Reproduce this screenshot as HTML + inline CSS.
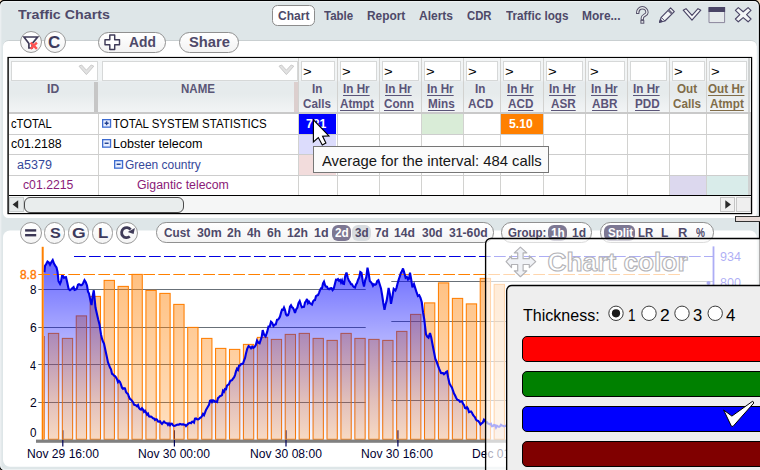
<!DOCTYPE html>
<html><head><meta charset="utf-8"><title>Traffic Charts</title>
<style>
*{box-sizing:border-box;margin:0;padding:0}
html,body{width:760px;height:470px;overflow:hidden;background:#f3dcc0;font-family:"Liberation Sans",sans-serif}
#r{position:absolute;left:0;top:0;width:760px;height:470px;overflow:hidden}
#r div,#r span,#r svg{position:absolute}
.x{white-space:nowrap;line-height:1;transform-origin:0 50%}
.win{left:-1.5px;top:0;width:761.5px;height:473px;background:#dfe5e7;border:1.5px solid #000;border-radius:7px}
.pill{border:1px solid #909090;background:linear-gradient(#ffffff,#f3f3f3)}
.circ{width:22px;height:22px;border:1px solid #9a9a9a;border-radius:11px;background:linear-gradient(#ffffff,#f4f4f4)}
.vl{top:58px;width:1px;height:137px;background:#d2d2d0}
.hl{left:9px;width:742px;height:1px;background:#cdcdcd}
.fb{top:60.5px;height:20px;background:#fff;border:1px solid #d6d8d8}
.sel{background:#7d7893;border-radius:6px;height:15.5px;top:225px}
</style></head><body><div id="r">
<svg style="left:0;top:0" width="760" height="470" viewBox="0 0 760 470">
 <rect x="-0.6" y="0.3" width="760" height="470.7" rx="5.5" fill="#dee6e8" stroke="#000" stroke-width="1.2"/>
 <rect x="0.7" y="1.6" width="757.4" height="468" rx="4.5" fill="none" stroke="#f2f5f6" stroke-opacity="0.7" stroke-width="1.2"/>
 <path d="M3.5 46 A5.5 5.5 0 0 1 8.5 40.5 H751.3 A5.5 5.5 0 0 1 756.3 46" fill="none" stroke="#c9cfd1" stroke-width="1"/>
 <rect x="3" y="41" width="753.8" height="177" rx="5.5" fill="#fff"/>
 <rect x="3" y="230.5" width="753.8" height="236.2" rx="7" fill="#fff"/>
 <rect x="8.1" y="57.6" width="743.4" height="155.9" fill="#fff" stroke="#000" stroke-width="1.4"/>
</svg>

<span class="x " style="left:17.50px;top:7.00px;font-size:13.6px;font-weight:bold;color:#4e4969;transform:scaleX(1.0483);line-height:15px;">Traffic Charts</span>
<div class="pill" style="left:272px;top:5px;width:42.5px;height:20.5px;border-radius:5.5px;background:#fff;border-color:#8c8c8c"></div>
<span class="x " style="left:277.54px;top:8.00px;font-size:13px;font-weight:bold;color:#4e4969;transform:scaleX(0.9248);line-height:15px;">Chart</span>
<span class="x " style="left:323.75px;top:8.00px;font-size:13px;font-weight:bold;color:#4e4969;transform:scaleX(0.8846);line-height:15px;">Table</span>
<span class="x " style="left:366.81px;top:8.00px;font-size:13px;font-weight:bold;color:#4e4969;transform:scaleX(0.9146);line-height:15px;">Report</span>
<span class="x " style="left:419.02px;top:8.00px;font-size:13px;font-weight:bold;color:#4e4969;transform:scaleX(0.9236);line-height:15px;">Alerts</span>
<span class="x " style="left:466.56px;top:8.00px;font-size:13px;font-weight:bold;color:#4e4969;transform:scaleX(0.8716);line-height:15px;">CDR</span>
<span class="x " style="left:505.50px;top:8.00px;font-size:13px;font-weight:bold;color:#4e4969;transform:scaleX(0.9018);line-height:15px;">Traffic logs</span>
<span class="x " style="left:581.81px;top:8.00px;font-size:13px;font-weight:bold;color:#4e4969;transform:scaleX(0.9193);line-height:15px;">More...</span>
<svg style="left:632px;top:2px" width="126" height="26" viewBox="632 2 126 26">
 <path d="M637.7 12.4 A4.65 4.65 0 0 1 647 12.4 C647 15.4 642.3 15 642.3 18 V18.9" fill="none" stroke="#55516a" stroke-width="3.3" stroke-linecap="square"/>
 <path d="M637.7 12.9 V12.4 A4.65 4.65 0 0 1 647 12.4 C647 15.4 642.3 15 642.3 18 V19.3" fill="none" stroke="#eef1f2" stroke-width="1.35" stroke-linecap="butt"/>
 <rect x="640.9" y="20.6" width="2.9" height="2.6" fill="#eef1f2" stroke="#55516a" stroke-width="1"/>
 <g fill="none" stroke="#4a4566" stroke-width="1.15" stroke-linejoin="round">
  <path d="M659.6 22.3 L661.2 17.3 L670.6 7.9 L674.3 11.6 L664.9 21 Z" fill="#f2f4f5"/>
  <path d="M661.2 17.3 L664.9 21" stroke-width="0.9"/>
  <path d="M667.6 10.9 L671.3 14.6 L672.9 13 L669.2 9.3 Z" fill="#6f6b84" stroke="none"/>
  <path d="M659.6 22.3 L660.4 19.7 L662.2 21.5 Z" fill="#4a4566"/>
  <path d="M683.2 10.2 L686 8.7 L692 15.4 L698 8.7 L700.8 10.2 L692 20.2 Z" fill="#f4f6f7"/>
  <rect x="709" y="7.6" width="15.6" height="15" fill="#e6eaec" stroke="#8a869c" stroke-width="1"/>
  <rect x="708.5" y="7" width="16.6" height="5" fill="#4a4566" stroke="none"/>
  <path d="M738.3 7.6 L743.2 11.8 L748.1 7.6 L751 10.4 L746.6 14.7 L751 19 L748.1 21.8 L743.2 17.6 L738.3 21.8 L735.4 19 L739.8 14.7 L735.4 10.4 Z" fill="#f4f6f7"/>
 </g>
</svg>
<div class="circ" style="left:20px;top:31px"></div>
<svg style="left:20px;top:31px" width="22" height="22" viewBox="20 31 22 22">
  <path d="M24 37 H37.6 L32.2 43.6 V48 H28.9 V43.6 Z" fill="#fff" stroke="#3f3b58" stroke-width="1.7" stroke-linejoin="miter"/>
  <path d="M30.6 42.6 L36.9 48.8 M36.9 42.6 L30.6 48.8" stroke="#ff5250" stroke-width="2.4"/>
</svg>
<div class="circ" style="left:44px;top:31px"></div>
<span class="x " style="left:48.30px;top:34.00px;font-size:16px;font-weight:bold;color:#3d3a5c;transform:scaleX(1.0634);line-height:17px;">C</span>
<div class="pill" style="left:98px;top:32px;width:68px;height:21px;border-radius:10.5px"></div>
<svg style="left:103px;top:34px" width="18" height="18" viewBox="103 34 18 18"><path d="M109.8 35 H114.7 V39.8 H119.5 V44.7 H114.7 V49.5 H109.8 V44.7 H105 V39.8 H109.8 Z" fill="#fff" stroke="#3f3b58" stroke-width="1.45" stroke-linejoin="round"/></svg>
<span class="x " style="left:129.34px;top:33.00px;font-size:15px;font-weight:bold;color:#4e4969;transform:scaleX(0.9225);line-height:17px;">Add</span>
<div class="pill" style="left:179px;top:32px;width:59.5px;height:21px;border-radius:10.5px"></div>
<span class="x " style="left:188.91px;top:33.00px;font-size:15px;font-weight:bold;color:#4e4969;transform:scaleX(0.9816);line-height:17px;">Share</span>
<div style="left:8.8px;top:58.3px;width:742px;height:54px;background:linear-gradient(#f3f5f6 0,#f1f4f5 22px,#e6ebed 24px,#e6ebec 36px,#edf0f1 46px,#f2f4f5 54px)"></div>
<div class="fb" style="left:11px;width:87px"></div>
<div class="fb" style="left:101.5px;width:196.2px"></div>
<svg style="left:78.2px;top:63.8px" width="17" height="12" viewBox="0 0 17 12"><path d="M1 2.2 L3.6 1 L8.4 6.2 L13.2 1 L15.8 2.2 L8.4 10.6 Z" fill="#e2e2e2" stroke="#cacaca" stroke-width="1"/></svg>
<svg style="left:278px;top:63.8px" width="17" height="12" viewBox="0 0 17 12"><path d="M1 2.2 L3.6 1 L8.4 6.2 L13.2 1 L15.8 2.2 L8.4 10.6 Z" fill="#e2e2e2" stroke="#cacaca" stroke-width="1"/></svg>
<span class="x " style="left:47.44px;top:82.00px;font-size:12px;font-weight:bold;color:#5a5676;transform:scaleX(1.0140);line-height:14px;">ID</span>
<span class="x " style="left:181.04px;top:82.00px;font-size:12px;font-weight:bold;color:#5a5676;transform:scaleX(0.9600);line-height:14px;">NAME</span>
<div style="left:94px;top:82px;width:4px;height:30px;background:#c6c6c6"></div>
<div style="left:294.4px;top:82px;width:3.4px;height:30px;background:#dccfce"></div>
<div class="fb" style="left:301.2px;width:34.3px"></div>
<span class="x " style="left:303.18px;top:65.00px;font-size:12px;font-weight:normal;color:#000;transform:scaleX(1.2333);line-height:14px;">&gt;</span>
<span class="x " style="left:311.61px;top:82.00px;font-size:12px;font-weight:bold;color:#5a5478;transform:scaleX(0.9750);line-height:14px;">In</span>
<span class="x " style="left:302.83px;top:97.00px;font-size:12px;font-weight:bold;color:#5a5478;transform:scaleX(0.9750);line-height:14px;">Calls</span>
<div class="fb" style="left:339.7px;width:37.8px"></div>
<span class="x " style="left:341.68px;top:65.00px;font-size:12px;font-weight:normal;color:#000;transform:scaleX(1.2333);line-height:14px;">&gt;</span>
<span class="x " style="left:343.45px;top:82.00px;font-size:12px;font-weight:bold;color:#5a5478;transform:scaleX(0.9750);line-height:14px;text-decoration:underline;text-decoration-thickness:1px;text-underline-offset:1.5px;">In Hr</span>
<span class="x " style="left:340.16px;top:97.00px;font-size:12px;font-weight:bold;color:#5a5478;transform:scaleX(0.9750);line-height:14px;text-decoration:underline;text-decoration-thickness:1px;text-underline-offset:1.5px;">Atmpt</span>
<div class="fb" style="left:381.7px;width:37.8px"></div>
<span class="x " style="left:383.68px;top:65.00px;font-size:12px;font-weight:normal;color:#000;transform:scaleX(1.2333);line-height:14px;">&gt;</span>
<span class="x " style="left:385.45px;top:82.00px;font-size:12px;font-weight:bold;color:#5a5478;transform:scaleX(0.9750);line-height:14px;text-decoration:underline;text-decoration-thickness:1px;text-underline-offset:1.5px;">In Hr</span>
<span class="x " style="left:384.23px;top:97.00px;font-size:12px;font-weight:bold;color:#5a5478;transform:scaleX(0.9750);line-height:14px;text-decoration:underline;text-decoration-thickness:1px;text-underline-offset:1.5px;">Conn</span>
<div class="fb" style="left:423.7px;width:37.8px"></div>
<span class="x " style="left:425.68px;top:65.00px;font-size:12px;font-weight:normal;color:#000;transform:scaleX(1.2333);line-height:14px;">&gt;</span>
<span class="x " style="left:427.45px;top:82.00px;font-size:12px;font-weight:bold;color:#5a5478;transform:scaleX(0.9750);line-height:14px;text-decoration:underline;text-decoration-thickness:1px;text-underline-offset:1.5px;">In Hr</span>
<span class="x " style="left:427.57px;top:97.00px;font-size:12px;font-weight:bold;color:#5a5478;transform:scaleX(0.9750);line-height:14px;text-decoration:underline;text-decoration-thickness:1px;text-underline-offset:1.5px;">Mins</span>
<div class="fb" style="left:465.7px;width:32.8px"></div>
<span class="x " style="left:467.68px;top:65.00px;font-size:12px;font-weight:normal;color:#000;transform:scaleX(1.2333);line-height:14px;">&gt;</span>
<span class="x " style="left:475.36px;top:82.00px;font-size:12px;font-weight:bold;color:#5a5478;transform:scaleX(0.9750);line-height:14px;">In</span>
<span class="x " style="left:468.05px;top:97.00px;font-size:12px;font-weight:bold;color:#5a5478;transform:scaleX(0.9750);line-height:14px;">ACD</span>
<div class="fb" style="left:502.7px;width:38.8px"></div>
<span class="x " style="left:504.68px;top:65.00px;font-size:12px;font-weight:normal;color:#000;transform:scaleX(1.2333);line-height:14px;">&gt;</span>
<span class="x " style="left:506.95px;top:82.00px;font-size:12px;font-weight:bold;color:#5a5478;transform:scaleX(0.9750);line-height:14px;text-decoration:underline;text-decoration-thickness:1px;text-underline-offset:1.5px;">In Hr</span>
<span class="x " style="left:508.05px;top:97.00px;font-size:12px;font-weight:bold;color:#5a5478;transform:scaleX(0.9750);line-height:14px;text-decoration:underline;text-decoration-thickness:1px;text-underline-offset:1.5px;">ACD</span>
<div class="fb" style="left:545.7px;width:37.8px"></div>
<span class="x " style="left:547.68px;top:65.00px;font-size:12px;font-weight:normal;color:#000;transform:scaleX(1.2333);line-height:14px;">&gt;</span>
<span class="x " style="left:549.45px;top:82.00px;font-size:12px;font-weight:bold;color:#5a5478;transform:scaleX(0.9750);line-height:14px;text-decoration:underline;text-decoration-thickness:1px;text-underline-offset:1.5px;">In Hr</span>
<span class="x " style="left:550.79px;top:97.00px;font-size:12px;font-weight:bold;color:#5a5478;transform:scaleX(0.9750);line-height:14px;text-decoration:underline;text-decoration-thickness:1px;text-underline-offset:1.5px;">ASR</span>
<div class="fb" style="left:587.7px;width:37.8px"></div>
<span class="x " style="left:589.68px;top:65.00px;font-size:12px;font-weight:normal;color:#000;transform:scaleX(1.2333);line-height:14px;">&gt;</span>
<span class="x " style="left:591.45px;top:82.00px;font-size:12px;font-weight:bold;color:#5a5478;transform:scaleX(0.9750);line-height:14px;text-decoration:underline;text-decoration-thickness:1px;text-underline-offset:1.5px;">In Hr</span>
<span class="x " style="left:592.43px;top:97.00px;font-size:12px;font-weight:bold;color:#5a5478;transform:scaleX(0.9750);line-height:14px;text-decoration:underline;text-decoration-thickness:1px;text-underline-offset:1.5px;">ABR</span>
<div class="fb" style="left:629.7px;width:37.8px"></div>
<span class="x " style="left:633.45px;top:82.00px;font-size:12px;font-weight:bold;color:#5a5478;transform:scaleX(0.9750);line-height:14px;text-decoration:underline;text-decoration-thickness:1px;text-underline-offset:1.5px;">In Hr</span>
<span class="x " style="left:634.55px;top:97.00px;font-size:12px;font-weight:bold;color:#5a5478;transform:scaleX(0.9750);line-height:14px;text-decoration:underline;text-decoration-thickness:1px;text-underline-offset:1.5px;">PDD</span>
<div class="fb" style="left:671.7px;width:33.3px"></div>
<span class="x " style="left:673.68px;top:65.00px;font-size:12px;font-weight:normal;color:#000;transform:scaleX(1.2333);line-height:14px;">&gt;</span>
<span class="x " style="left:676.61px;top:82.00px;font-size:12px;font-weight:bold;color:#806c48;transform:scaleX(0.9750);line-height:14px;">Out</span>
<span class="x " style="left:672.83px;top:97.00px;font-size:12px;font-weight:bold;color:#806c48;transform:scaleX(0.9750);line-height:14px;">Calls</span>
<div class="fb" style="left:709.2px;width:38.3px"></div>
<span class="x " style="left:711.18px;top:65.00px;font-size:12px;font-weight:normal;color:#000;transform:scaleX(1.2333);line-height:14px;">&gt;</span>
<span class="x " style="left:708.45px;top:82.00px;font-size:12px;font-weight:bold;color:#806c48;transform:scaleX(0.9750);line-height:14px;text-decoration:underline;text-decoration-thickness:1px;text-underline-offset:1.5px;">Out Hr</span>
<span class="x " style="left:709.91px;top:97.00px;font-size:12px;font-weight:bold;color:#806c48;transform:scaleX(0.9750);line-height:14px;text-decoration:underline;text-decoration-thickness:1px;text-underline-offset:1.5px;">Atmpt</span>
<div class="vl" style="left:298.0px"></div>
<div class="vl" style="left:336.5px"></div>
<div class="vl" style="left:378.5px"></div>
<div class="vl" style="left:420.5px"></div>
<div class="vl" style="left:462.5px"></div>
<div class="vl" style="left:499.5px"></div>
<div class="vl" style="left:542.5px"></div>
<div class="vl" style="left:584.5px"></div>
<div class="vl" style="left:626.5px"></div>
<div class="vl" style="left:668.5px"></div>
<div class="vl" style="left:706.0px"></div>
<div class="vl" style="left:748.2px;width:1.4px;background:#cfd2d2"></div>
<div class="vl" style="left:98.2px;top:113px;height:82px"></div>
<div class="hl" style="top:112px;height:1.6px;background:#c9c9c9"></div>
<div class="hl" style="top:133.8px"></div>
<div class="hl" style="top:154.2px"></div>
<div class="hl" style="top:174.8px"></div>
<div style="left:299px;top:113.6px;width:37.2px;height:20.2px;background:#0000ff"></div>
<span class="x " style="left:305.71px;top:117.00px;font-size:12.4px;font-weight:bold;color:#fff;transform:scaleX(0.9850);line-height:14px;">781</span>
<div style="left:299px;top:134.8px;width:37.2px;height:19.4px;background:#dcdcfc"></div>
<div style="left:299px;top:155.2px;width:37.2px;height:19.6px;background:#f2dcdc"></div>
<div style="left:421.5px;top:113.6px;width:41px;height:20.2px;background:#d9ecd7"></div>
<div style="left:500.5px;top:113.6px;width:42px;height:20.2px;background:#ff8000"></div>
<span class="x " style="left:508.51px;top:117.00px;font-size:12.4px;font-weight:bold;color:#fff;transform:scaleX(0.9892);line-height:14px;">5.10</span>
<div style="left:669.5px;top:175.8px;width:36.5px;height:19.4px;background:#dcd8ee"></div>
<div style="left:707px;top:175.8px;width:41.2px;height:19.4px;background:#d9ecea"></div>
<span class="x " style="left:11.23px;top:117.00px;font-size:12px;font-weight:normal;color:#000;transform:scaleX(0.9357);line-height:14px;">cTOTAL</span>
<span class="x " style="left:11.19px;top:137.00px;font-size:12px;font-weight:normal;color:#000;transform:scaleX(1.0247);line-height:14px;">c01.2188</span>
<span class="x " style="left:17.08px;top:158.00px;font-size:12px;font-weight:normal;color:#36489a;transform:scaleX(1.0450);line-height:14px;">a5379</span>
<span class="x " style="left:23.39px;top:178.00px;font-size:12px;font-weight:normal;color:#8a1a78;transform:scaleX(1.0206);line-height:14px;">c01.2215</span>
<span class="x " style="left:112.96px;top:117.00px;font-size:12px;font-weight:normal;color:#000;transform:scaleX(0.9569);line-height:14px;">TOTAL SYSTEM STATISTICS</span>
<span class="x " style="left:112.85px;top:137.00px;font-size:12px;font-weight:normal;color:#000;transform:scaleX(1.0472);line-height:14px;">Lobster telecom</span>
<span class="x " style="left:124.90px;top:158.00px;font-size:12px;font-weight:normal;color:#36489a;transform:scaleX(0.9960);line-height:14px;">Green country</span>
<span class="x " style="left:137.29px;top:178.00px;font-size:12px;font-weight:normal;color:#8a1a78;transform:scaleX(1.0278);line-height:14px;">Gigantic telecom</span>
<svg style="left:101.6px;top:118.9px" width="10" height="9" viewBox="0 0 10 9"><rect x="0.65" y="0.65" width="7.9" height="7.5" fill="#e9f0ff" stroke="#3d6cd0" stroke-width="1.3"/><path d="M2.6 4.25 H6.6 M4.6 2.3 V6.2" stroke="#1f3f90" stroke-width="1.4"/></svg>
<svg style="left:101.6px;top:139.4px" width="10" height="9" viewBox="0 0 10 9"><rect x="0.65" y="0.65" width="7.9" height="7.5" fill="#e9f0ff" stroke="#3d6cd0" stroke-width="1.3"/><path d="M2.6 4.25 H6.6" stroke="#1f3f90" stroke-width="1.4"/></svg>
<svg style="left:113.9px;top:159.9px" width="10" height="9" viewBox="0 0 10 9"><rect x="0.65" y="0.65" width="7.9" height="7.5" fill="#e9f0ff" stroke="#3d6cd0" stroke-width="1.3"/><path d="M2.6 4.25 H6.6" stroke="#1f3f90" stroke-width="1.4"/></svg>
<div style="left:8.8px;top:195px;width:742px;height:1.3px;background:#000"></div>
<div style="left:8.8px;top:196.3px;width:742px;height:16.4px;background:#f5f6f6"></div>
<div style="left:9px;top:196.8px;width:15px;height:15.6px;background:#e6eaea;border:1px solid #c8cccc"></div>
<svg style="left:11px;top:199px" width="10" height="11" viewBox="0 0 10 11"><path d="M7.2 1.2 L1.6 5.5 L7.2 9.8 Z" fill="#2a2a2a"/></svg>
<div style="left:24px;top:196.6px;width:159.5px;height:16.6px;background:#e9eded;border:1px solid #4a4a4a;border-radius:6px"></div>
<div style="left:719.6px;top:196.8px;width:15px;height:15.6px;background:#f0f0f0;border:1px solid #c4c4c4"></div>
<svg style="left:723px;top:199px" width="10" height="11" viewBox="0 0 10 11"><path d="M2.3 1.2 L7.9 5.5 L2.3 9.8 Z" fill="#2a2a2a"/></svg>
<div style="left:735.6px;top:196.8px;width:15px;height:15.6px;background:#efefef;border:1px solid #c8c8c8"></div>
<div style="left:735px;top:216px;width:30px;height:6px;background:#e8dcd8;border:1px solid #333"></div>
<div class="circ" style="left:19.8px;top:221.8px;width:21.8px;height:21.8px"></div>
<div class="circ" style="left:43.7px;top:221.8px;width:21.8px;height:21.8px"></div>
<div class="circ" style="left:67.7px;top:221.8px;width:21.8px;height:21.8px"></div>
<div class="circ" style="left:91.6px;top:221.8px;width:21.8px;height:21.8px"></div>
<div class="circ" style="left:115.9px;top:221.8px;width:21.8px;height:21.8px"></div>
<svg style="left:20px;top:222px" width="22" height="22" viewBox="20 222 22 22"><rect x="25.1" y="229.2" width="11.1" height="2.4" fill="#3a3654"/><rect x="25.1" y="234" width="11.1" height="2.4" fill="#3a3654"/></svg>
<span class="x " style="left:50.26px;top:224.00px;font-size:15px;font-weight:bold;color:#3d3a5c;transform:scaleX(1.0778);line-height:17px;">S</span>
<span class="x " style="left:72.41px;top:224.00px;font-size:15px;font-weight:bold;color:#3d3a5c;transform:scaleX(1.1707);line-height:17px;">G</span>
<span class="x " style="left:97.88px;top:224.00px;font-size:15px;font-weight:bold;color:#3d3a5c;transform:scaleX(1.1226);line-height:17px;">L</span>
<svg style="left:116px;top:222px" width="22" height="22" viewBox="116 222 22 22"><path d="M130.6 229.6 A5 5 0 1 0 129.8 236.5" fill="none" stroke="#3f3b58" stroke-width="2.8"/><path d="M127.8 232 L134.9 228 L133.6 234 Z" fill="#3f3b58"/></svg>
<div class="pill" style="left:156.2px;top:222px;width:338px;height:20.5px;border-radius:10.2px"></div>
<div class="pill" style="left:501.2px;top:222px;width:91.3px;height:20.5px;border-radius:10.2px"></div>
<div class="pill" style="left:599.8px;top:222px;width:114.4px;height:20.5px;border-radius:10.2px"></div>
<div class="sel" style="left:332px;width:18.5px"></div>
<div class="sel" style="left:351.7px;width:19px;background:#d8dcdf"></div>
<div class="sel" style="left:548px;width:18.8px"></div>
<div class="sel" style="left:603.8px;width:31px"></div>
<span class="x " style="left:164.05px;top:225.00px;font-size:13px;font-weight:bold;color:#4e4969;transform:scaleX(0.9027);line-height:15px;">Cust</span>
<span class="x " style="left:196.51px;top:225.00px;font-size:13px;font-weight:bold;color:#4e4969;transform:scaleX(0.9500);line-height:15px;">30m</span>
<span class="x " style="left:227.04px;top:225.00px;font-size:13px;font-weight:bold;color:#4e4969;transform:scaleX(0.9286);line-height:15px;">2h</span>
<span class="x " style="left:247.27px;top:225.00px;font-size:13px;font-weight:bold;color:#4e4969;transform:scaleX(0.9123);line-height:15px;">4h</span>
<span class="x " style="left:267.04px;top:225.00px;font-size:13px;font-weight:bold;color:#4e4969;transform:scaleX(0.9286);line-height:15px;">6h</span>
<span class="x " style="left:287.30px;top:225.00px;font-size:13px;font-weight:bold;color:#4e4969;transform:scaleX(0.9398);line-height:15px;">12h</span>
<span class="x " style="left:313.78px;top:225.00px;font-size:13px;font-weight:bold;color:#4e4969;transform:scaleX(0.9630);line-height:15px;">1d</span>
<span class="x " style="left:334.55px;top:225.00px;font-size:13px;font-weight:bold;color:#fff;transform:scaleX(0.9091);line-height:15px;">2d</span>
<span class="x " style="left:354.78px;top:225.00px;font-size:13px;font-weight:bold;color:#4e4969;transform:scaleX(0.8929);line-height:15px;">3d</span>
<span class="x " style="left:374.55px;top:225.00px;font-size:13px;font-weight:bold;color:#4e4969;transform:scaleX(0.9091);line-height:15px;">7d</span>
<span class="x " style="left:394.30px;top:225.00px;font-size:13px;font-weight:bold;color:#4e4969;transform:scaleX(0.9398);line-height:15px;">14d</span>
<span class="x " style="left:421.52px;top:225.00px;font-size:13px;font-weight:bold;color:#4e4969;transform:scaleX(0.9176);line-height:15px;">30d</span>
<span class="x " style="left:448.52px;top:225.00px;font-size:13px;font-weight:bold;color:#4e4969;transform:scaleX(0.9375);line-height:15px;">31-60d</span>
<span class="x " style="left:507.81px;top:225.00px;font-size:13px;font-weight:bold;color:#4e4969;transform:scaleX(0.8855);line-height:15px;">Group:</span>
<span class="x " style="left:551.07px;top:225.00px;font-size:13px;font-weight:bold;color:#fff;transform:scaleX(0.9091);line-height:15px;">1h</span>
<span class="x " style="left:571.81px;top:225.00px;font-size:13px;font-weight:bold;color:#4e4969;transform:scaleX(0.9259);line-height:15px;">1d</span>
<span class="x " style="left:608.30px;top:225.00px;font-size:13px;font-weight:bold;color:#fff;transform:scaleX(0.8909);line-height:15px;">Split</span>
<span class="x " style="left:638.14px;top:225.00px;font-size:13px;font-weight:bold;color:#4e4969;transform:scaleX(0.8738);line-height:15px;">LR</span>
<span class="x " style="left:660.71px;top:225.00px;font-size:13px;font-weight:bold;color:#4e4969;transform:scaleX(0.9185);line-height:15px;">L</span>
<span class="x " style="left:677.65px;top:225.00px;font-size:13px;font-weight:bold;color:#4e4969;transform:scaleX(0.9939);line-height:15px;">R</span>
<span class="x " style="left:696.11px;top:225.00px;font-size:13px;font-weight:bold;color:#4e4969;transform:scaleX(0.7727);line-height:15px;">%</span>
<svg style="left:0;top:0" width="760" height="470" viewBox="0 0 760 470">
 <defs><clipPath id="cl"><rect x="43" y="240" width="10" height="200"/></clipPath>
  <linearGradient id="gb" x1="0" y1="270" x2="0" y2="440" gradientUnits="userSpaceOnUse"><stop offset="0" stop-color="#ff8000" stop-opacity="0.5"/><stop offset="1" stop-color="#ff8000" stop-opacity="0.24"/></linearGradient>
  <linearGradient id="ga" x1="0" y1="255" x2="0" y2="440" gradientUnits="userSpaceOnUse"><stop offset="0" stop-color="#0000ff" stop-opacity="0.62"/><stop offset="0.39" stop-color="#0000ff" stop-opacity="0.35"/><stop offset="0.78" stop-color="#0000ff" stop-opacity="0.12"/><stop offset="1" stop-color="#0000ff" stop-opacity="0.03"/></linearGradient>
 </defs>
 <g stroke="#687078" stroke-width="1.2">
  <path d="M38.3 289.5 H365.7 M38.3 327.5 H365.7 M38.3 364.5 H365.7 M38.3 402.5 H365.7"/>
  <path d="M391.3 281.5 H713 M391.3 321.5 H713 M391.3 361.5 H713 M391.3 400.5 H713"/>
 </g>
 <g stroke="#000058" stroke-width="1.2"><path d="M62.8 430.2 V440 M174.4 430.2 V440 M286 430.2 V440 M397.9 430.2 V440 M509.4 430.2 V440 M620.8 430.2 V440"/></g>
 <g fill="url(#gb)" stroke="#ff7e00" stroke-width="1.05">
 <path d="M44.5 336 V439.3" fill="none" stroke-width="0.8"/>
 <rect x="48.40" y="333.4" width="10.3" height="105.9"/>
<rect x="62.33" y="338.4" width="10.3" height="100.9"/>
<rect x="76.26" y="315.9" width="10.3" height="123.4"/>
<rect x="90.19" y="296.4" width="10.3" height="142.9"/>
<rect x="104.12" y="280.4" width="10.3" height="158.9"/>
<rect x="118.05" y="286.4" width="10.3" height="152.9"/>
<rect x="131.98" y="274.4" width="10.3" height="164.9"/>
<rect x="145.91" y="290.4" width="10.3" height="148.9"/>
<rect x="159.84" y="293.4" width="10.3" height="145.9"/>
<rect x="173.77" y="304.4" width="10.3" height="134.9"/>
<rect x="187.70" y="327.4" width="10.3" height="111.9"/>
<rect x="201.63" y="338.4" width="10.3" height="100.9"/>
<rect x="215.56" y="348.4" width="10.3" height="90.9"/>
<rect x="229.49" y="349.4" width="10.3" height="89.9"/>
<rect x="243.42" y="344.4" width="10.3" height="94.9"/>
<rect x="257.35" y="337.4" width="10.3" height="101.9"/>
<rect x="271.28" y="339.4" width="10.3" height="99.9"/>
<rect x="285.21" y="334.4" width="10.3" height="104.9"/>
<rect x="299.14" y="333.4" width="10.3" height="105.9"/>
<rect x="313.07" y="338.4" width="10.3" height="100.9"/>
<rect x="327.00" y="340.4" width="10.3" height="98.9"/>
<rect x="340.93" y="333.4" width="10.3" height="105.9"/>
<rect x="354.86" y="338.4" width="10.3" height="100.9"/>
<rect x="368.79" y="339.4" width="10.3" height="99.9"/>
<rect x="382.72" y="340.4" width="10.3" height="98.9"/>
<rect x="396.65" y="331.4" width="10.3" height="107.9"/>
<rect x="410.58" y="314.4" width="10.3" height="124.9"/>
<rect x="424.51" y="302.9" width="10.3" height="136.4"/>
<rect x="438.44" y="282.9" width="10.3" height="156.4"/>
<rect x="452.37" y="298.4" width="10.3" height="140.9"/>
<rect x="466.30" y="303.9" width="10.3" height="135.4"/>
<rect x="480.23" y="278.4" width="10.3" height="160.9"/>
<rect x="494.16" y="284.4" width="10.3" height="154.9"/>
<rect x="508.09" y="300.4" width="10.3" height="138.9"/>
<rect x="522.02" y="310.4" width="10.3" height="128.9"/>
<rect x="535.95" y="322.4" width="10.3" height="116.9"/>
<rect x="549.88" y="335.4" width="10.3" height="103.9"/>
<rect x="563.81" y="350.4" width="10.3" height="88.9"/>
<rect x="577.74" y="362.4" width="10.3" height="76.9"/>
<rect x="591.67" y="375.4" width="10.3" height="63.9"/>
<rect x="605.60" y="385.4" width="10.3" height="53.9"/>
<rect x="619.53" y="392.4" width="10.3" height="46.9"/>
<rect x="633.46" y="398.4" width="10.3" height="40.9"/>
<rect x="647.39" y="402.4" width="10.3" height="36.9"/>
<rect x="661.32" y="405.4" width="10.3" height="33.9"/>
<rect x="675.25" y="400.4" width="10.3" height="38.9"/>
<rect x="689.18" y="396.4" width="10.3" height="42.9"/>
 </g>
 <path d="M43.6,270.7 L44.5,271.0 L45.0,265.9 L46.2,264.0 L47.5,261.5 L48.8,262.5 L50.0,264.8 L51.4,262.0 L52.7,260.1 L54.0,263.6 L55.2,265.6 L56.5,267.5 L57.5,271.8 L58.5,281.1 L60.0,283.8 L61.0,281.4 L62.0,276.1 L63.0,276.1 L64.0,277.8 L65.0,277.3 L66.0,277.2 L67.3,282.7 L68.6,288.9 L70.0,290.2 L71.2,289.3 L72.5,288.0 L73.6,287.0 L74.6,290.0 L75.7,289.6 L76.8,288.5 L78.0,284.7 L79.0,284.2 L80.0,284.7 L81.0,285.3 L82.2,284.7 L83.3,282.8 L84.5,280.2 L85.8,282.3 L87.0,285.5 L88.0,291.6 L89.0,293.5 L90.2,299.4 L91.5,305.0 L92.7,295.9 L93.8,290.3 L95.5,307.5 L97.0,314.2 L98.2,319.5 L99.5,324.4 L101.0,334.4 L102.0,338.7 L103.0,341.6 L104.0,343.5 L105.0,348.3 L106.0,353.0 L107.0,357.6 L108.0,362.4 L109.0,364.8 L110.0,367.6 L111.0,369.3 L112.0,373.8 L113.0,374.4 L114.0,375.6 L115.0,376.1 L116.0,377.4 L117.0,379.1 L118.0,382.1 L119.0,380.9 L120.0,382.0 L121.0,384.7 L122.0,387.7 L123.0,388.9 L124.0,388.1 L125.0,388.3 L126.0,392.0 L127.0,393.2 L128.0,394.0 L129.0,397.1 L130.0,399.0 L131.0,399.6 L132.0,400.8 L133.0,402.2 L134.0,404.6 L135.0,404.9 L136.0,405.4 L137.0,406.2 L138.0,405.1 L139.0,408.0 L140.0,409.1 L141.0,409.6 L142.0,408.2 L143.0,409.5 L144.0,411.8 L145.0,410.7 L146.0,412.4 L147.0,414.6 L148.0,413.6 L149.0,416.3 L150.0,416.6 L151.0,416.5 L152.0,417.3 L153.0,418.3 L154.0,418.5 L155.0,420.0 L156.0,419.2 L157.0,419.6 L158.0,421.5 L159.0,421.6 L160.0,421.3 L161.0,422.9 L162.0,423.9 L163.0,422.7 L164.0,421.6 L165.0,422.6 L166.0,423.0 L167.0,423.2 L168.0,424.9 L169.0,423.5 L170.0,425.2 L171.0,423.7 L172.0,423.8 L173.0,425.3 L174.0,426.0 L175.0,425.8 L176.0,425.2 L177.0,424.7 L178.0,424.5 L179.0,424.7 L180.0,424.0 L181.0,424.3 L182.0,424.6 L183.0,424.2 L184.0,424.7 L185.0,424.7 L186.0,426.0 L187.0,424.9 L188.0,423.9 L189.0,423.1 L190.0,422.8 L191.0,423.2 L192.0,421.8 L193.0,421.7 L194.0,422.6 L195.0,418.6 L196.0,418.4 L197.0,419.3 L198.0,419.4 L199.0,418.9 L200.0,417.9 L201.0,417.4 L202.0,416.0 L203.0,414.0 L204.0,415.2 L205.0,412.7 L206.0,409.9 L207.0,408.2 L208.0,406.5 L209.0,404.9 L210.0,400.8 L211.0,400.4 L212.0,402.0 L213.0,400.3 L214.0,400.7 L215.0,401.6 L216.0,401.6 L217.0,402.0 L218.0,398.1 L219.0,397.2 L220.0,396.1 L221.0,395.7 L222.0,395.1 L223.0,390.7 L224.0,391.8 L225.0,389.0 L226.0,389.2 L227.0,385.7 L228.0,384.8 L229.0,384.1 L230.0,381.4 L231.0,380.5 L232.0,380.1 L233.0,378.7 L234.0,377.4 L235.0,375.1 L236.0,371.4 L237.0,368.8 L238.0,369.9 L239.0,365.8 L240.0,365.5 L241.0,364.2 L242.0,363.7 L243.0,363.7 L244.0,360.6 L245.0,358.1 L246.0,353.4 L247.3,348.6 L248.6,346.0 L249.8,346.9 L251.0,348.3 L252.2,346.7 L253.3,347.8 L254.5,346.9 L255.8,345.1 L257.0,340.6 L258.3,342.6 L259.6,343.3 L260.6,340.2 L261.7,336.9 L262.7,330.1 L264.1,334.7 L265.6,336.4 L267.1,332.2 L268.5,326.5 L269.8,326.3 L271.0,321.7 L272.2,322.9 L273.5,326.0 L274.7,324.6 L275.8,324.4 L277.0,319.9 L278.0,319.6 L279.0,318.5 L280.0,316.5 L281.0,312.8 L282.0,309.7 L283.0,309.8 L284.0,307.5 L285.0,310.0 L286.0,314.4 L287.0,315.5 L288.0,315.1 L289.0,312.3 L290.0,306.6 L291.0,305.2 L292.0,307.2 L293.0,307.9 L294.0,310.0 L295.0,313.0 L296.2,309.3 L297.4,307.6 L298.5,303.1 L299.7,301.0 L300.8,304.3 L301.9,307.3 L303.0,307.0 L304.0,306.9 L305.0,302.4 L306.0,301.3 L307.0,298.9 L308.0,303.0 L309.0,301.6 L310.0,303.2 L311.0,303.8 L312.0,304.5 L313.0,301.6 L314.0,300.2 L315.0,300.1 L316.0,296.2 L317.0,295.4 L318.0,295.1 L319.0,292.8 L320.0,290.1 L321.0,288.3 L322.0,288.3 L323.0,283.4 L324.0,281.7 L325.0,285.0 L326.0,286.6 L327.0,286.8 L328.0,288.7 L329.1,289.2 L330.3,288.3 L331.5,288.2 L332.6,290.1 L333.7,288.8 L334.9,284.0 L336.0,279.7 L337.0,279.8 L338.0,279.0 L339.0,280.7 L340.0,279.9 L341.0,282.5 L342.0,280.3 L343.0,283.7 L344.0,284.0 L345.2,276.0 L346.5,272.6 L347.8,277.8 L349.0,280.8 L350.0,282.1 L351.0,284.3 L352.0,284.3 L353.0,286.2 L354.0,287.1 L355.0,287.5 L356.0,284.4 L357.0,283.0 L358.0,279.8 L359.2,277.4 L360.3,272.1 L361.5,272.9 L362.8,281.2 L364.0,286.5 L365.2,280.0 L366.3,277.2 L367.5,267.7 L368.7,273.7 L369.8,281.1 L371.0,282.2 L372.0,283.6 L373.0,285.8 L374.0,284.2 L375.0,284.8 L376.1,284.2 L377.3,280.9 L378.4,280.2 L379.7,284.2 L381.0,288.4 L382.2,295.5 L383.3,303.0 L384.5,309.8 L385.5,304.7 L386.6,300.9 L387.6,294.9 L388.6,288.0 L389.8,293.6 L391.0,303.9 L392.4,296.5 L393.7,288.8 L395.4,290.4 L396.5,287.8 L397.7,283.1 L398.8,279.4 L399.9,276.1 L400.9,272.9 L402.0,271.1 L403.0,268.5 L404.0,271.8 L405.6,277.7 L406.8,276.8 L408.0,279.5 L409.0,278.6 L410.0,272.7 L411.2,279.4 L412.4,287.3 L414.0,284.1 L415.4,288.6 L416.7,292.7 L417.9,296.0 L419.2,295.3 L420.5,297.9 L421.8,302.3 L423.1,312.7 L424.3,319.6 L426.0,334.3 L427.2,336.6 L428.5,337.7 L430.0,333.1 L431.2,337.3 L432.5,344.3 L433.9,351.5 L435.3,358.6 L436.6,361.6 L438.0,365.7 L439.0,368.4 L440.0,370.6 L441.0,373.0 L442.0,373.1 L443.0,373.0 L444.0,374.3 L445.0,373.4 L446.0,372.1 L447.0,371.5 L448.2,377.8 L449.5,383.6 L450.8,385.8 L452.0,387.6 L453.0,390.7 L454.0,393.5 L455.0,395.3 L456.0,397.5 L457.0,399.4 L458.0,400.1 L459.0,400.4 L460.0,401.8 L461.0,401.6 L462.0,401.3 L463.0,403.7 L464.0,404.9 L465.0,408.0 L466.0,408.4 L467.0,407.3 L468.0,408.8 L469.0,412.1 L470.0,411.7 L471.0,411.5 L472.0,412.7 L473.0,414.9 L474.0,416.2 L475.0,417.3 L476.0,419.7 L477.0,420.6 L478.2,420.9 L479.3,422.3 L480.5,424.5 L481.7,423.3 L482.8,422.5 L484.0,419.7 L485.0,420.8 L486.0,422.6 L487.0,422.2 L488.0,423.6 L489.0,423.8 L490.0,424.4 L491.0,423.8 L492.0,426.3 L493.0,426.1 L494.0,425.0 L495.0,425.2 L496.0,427.6 L497.0,425.8 L498.0,426.4 L499.0,426.9 L500.0,426.3 L501.0,424.8 L502.0,425.5 L503.0,425.7 L504.0,426.4 L505.0,426.1 L506.0,425.6 L507.0,426.4 L508.0,426.4 L509.0,426.3 L510.0,426.2 L511.0,426.1 L512.0,427.0 L513.0,425.9 L514.0,426.0 L515.0,426.8 L516.0,425.8 L517.0,426.6 L518.0,425.6 L519.0,426.6 L520.0,428.1 L521.0,428.7 L522.0,428.4 L523.0,428.3 L524.0,427.3 L525.0,430.0 L526.0,429.7 L527.0,430.3 L528.0,428.8 L529.0,429.1 L530.0,427.8 L531.0,429.8 L532.0,430.7 L533.0,428.5 L534.0,429.6 L535.0,430.7 L536.0,428.9 L537.0,428.5 L538.0,429.1 L539.0,429.8 L540.0,429.4 L541.0,430.7 L542.0,431.3 L543.0,431.9 L544.0,432.2 L545.0,433.1 L546.0,433.1 L547.0,431.0 L548.0,431.1 L549.0,430.7 L550.0,430.7 L551.0,431.6 L552.0,432.1 L553.0,432.7 L554.0,431.1 L555.0,431.0 L556.0,432.1 L557.0,432.4 L558.0,432.4 L559.0,432.7 L560.0,432.3 L561.0,433.5 L562.0,433.5 L563.0,433.2 L564.0,432.6 L565.0,432.9 L566.0,430.8 L567.0,431.7 L568.0,432.9 L569.0,432.0 L570.0,433.2 L571.0,433.6 L572.0,432.4 L573.0,433.1 L574.0,433.2 L575.0,434.0 L576.0,434.4 L577.0,434.0 L578.0,433.2 L579.0,433.6 L580.0,433.8 L581.0,434.6 L582.0,434.3 L583.0,433.3 L584.0,432.4 L585.0,433.0 L586.0,432.8 L587.0,432.4 L588.0,433.1 L589.0,433.0 L590.0,433.4 L591.0,433.9 L592.0,433.2 L593.0,435.4 L594.0,433.6 L595.0,434.3 L596.0,433.6 L597.0,434.3 L598.0,431.3 L599.0,431.8 L600.0,432.9 L601.0,433.3 L602.0,435.0 L603.0,433.5 L604.0,433.8 L605.0,433.4 L606.0,433.3 L607.0,432.8 L608.0,431.9 L609.0,432.1 L610.0,430.7 L611.0,432.2 L612.0,430.5 L613.0,431.1 L614.0,432.8 L615.0,431.1 L616.0,430.7 L617.0,431.5 L618.0,430.6 L619.0,429.5 L620.0,430.0 L621.0,430.3 L622.0,430.3 L623.0,428.8 L624.0,430.4 L625.0,430.7 L626.0,429.1 L627.0,428.7 L628.0,427.7 L629.0,428.9 L630.0,427.2 L631.0,427.8 L632.0,426.7 L633.0,426.0 L634.0,426.9 L635.0,427.6 L636.0,426.4 L637.0,425.3 L638.0,426.1 L639.0,425.4 L640.0,425.3 L641.0,426.1 L642.0,425.7 L643.0,423.8 L644.0,425.4 L645.0,423.6 L646.0,423.5 L647.0,421.9 L648.0,421.7 L649.0,419.8 L650.0,422.1 L651.0,422.2 L652.0,419.6 L653.0,418.3 L654.0,417.5 L655.0,419.5 L656.0,418.3 L657.0,418.1 L658.0,417.5 L659.0,417.2 L660.0,416.0 L661.0,416.1 L662.0,414.4 L663.0,414.7 L664.0,414.7 L665.0,414.5 L666.0,413.3 L667.0,412.0 L668.0,412.1 L669.0,411.1 L670.0,412.3 L671.0,411.5 L672.0,410.0 L673.0,408.8 L674.0,407.9 L675.0,406.9 L676.0,406.8 L677.0,406.9 L678.0,406.7 L679.0,406.3 L680.0,407.1 L681.0,404.2 L682.0,403.5 L683.0,405.3 L684.0,401.1 L685.0,400.5 L686.0,400.4 L687.0,399.9 L688.0,399.4 L689.0,398.2 L690.0,397.8 L691.0,396.9 L692.0,396.7 L693.0,393.8 L694.0,393.3 L695.0,393.4 L696.0,392.0 L697.0,391.0 L698.0,391.7 L699.0,390.2 L700.0,390.4 L701.0,389.9 L702.0,388.7 L703.0,387.8 L704.0,386.4 L705.0,384.1 L706.0,384.1 L707.0,383.8 L708.0,382.2 L709.0,381.5 L710.0,381.4 L711.0,379.2 L712.0,379.3 L713.0,379.8 L713.0,440 L43.6,440 Z" fill="url(#ga)"/>
 <path d="M74 256.5 H713" stroke="#0000e0" stroke-width="1.2" stroke-dasharray="11.7 3.3"/>
 <path d="M38.3 274.5 H681" stroke="#ff8000" stroke-width="1.2" stroke-dasharray="11.7 3.3"/>
 <path d="M43.6,270.7 L44.5,271.0 L45.0,265.9 L46.2,264.0 L47.5,261.5 L48.8,262.5 L50.0,264.8 L51.4,262.0 L52.7,260.1 L54.0,263.6 L55.2,265.6 L56.5,267.5 L57.5,271.8 L58.5,281.1 L60.0,283.8 L61.0,281.4 L62.0,276.1 L63.0,276.1 L64.0,277.8 L65.0,277.3 L66.0,277.2 L67.3,282.7 L68.6,288.9 L70.0,290.2 L71.2,289.3 L72.5,288.0 L73.6,287.0 L74.6,290.0 L75.7,289.6 L76.8,288.5 L78.0,284.7 L79.0,284.2 L80.0,284.7 L81.0,285.3 L82.2,284.7 L83.3,282.8 L84.5,280.2 L85.8,282.3 L87.0,285.5 L88.0,291.6 L89.0,293.5 L90.2,299.4 L91.5,305.0 L92.7,295.9 L93.8,290.3 L95.5,307.5 L97.0,314.2 L98.2,319.5 L99.5,324.4 L101.0,334.4 L102.0,338.7 L103.0,341.6 L104.0,343.5 L105.0,348.3 L106.0,353.0 L107.0,357.6 L108.0,362.4 L109.0,364.8 L110.0,367.6 L111.0,369.3 L112.0,373.8 L113.0,374.4 L114.0,375.6 L115.0,376.1 L116.0,377.4 L117.0,379.1 L118.0,382.1 L119.0,380.9 L120.0,382.0 L121.0,384.7 L122.0,387.7 L123.0,388.9 L124.0,388.1 L125.0,388.3 L126.0,392.0 L127.0,393.2 L128.0,394.0 L129.0,397.1 L130.0,399.0 L131.0,399.6 L132.0,400.8 L133.0,402.2 L134.0,404.6 L135.0,404.9 L136.0,405.4 L137.0,406.2 L138.0,405.1 L139.0,408.0 L140.0,409.1 L141.0,409.6 L142.0,408.2 L143.0,409.5 L144.0,411.8 L145.0,410.7 L146.0,412.4 L147.0,414.6 L148.0,413.6 L149.0,416.3 L150.0,416.6 L151.0,416.5 L152.0,417.3 L153.0,418.3 L154.0,418.5 L155.0,420.0 L156.0,419.2 L157.0,419.6 L158.0,421.5 L159.0,421.6 L160.0,421.3 L161.0,422.9 L162.0,423.9 L163.0,422.7 L164.0,421.6 L165.0,422.6 L166.0,423.0 L167.0,423.2 L168.0,424.9 L169.0,423.5 L170.0,425.2 L171.0,423.7 L172.0,423.8 L173.0,425.3 L174.0,426.0 L175.0,425.8 L176.0,425.2 L177.0,424.7 L178.0,424.5 L179.0,424.7 L180.0,424.0 L181.0,424.3 L182.0,424.6 L183.0,424.2 L184.0,424.7 L185.0,424.7 L186.0,426.0 L187.0,424.9 L188.0,423.9 L189.0,423.1 L190.0,422.8 L191.0,423.2 L192.0,421.8 L193.0,421.7 L194.0,422.6 L195.0,418.6 L196.0,418.4 L197.0,419.3 L198.0,419.4 L199.0,418.9 L200.0,417.9 L201.0,417.4 L202.0,416.0 L203.0,414.0 L204.0,415.2 L205.0,412.7 L206.0,409.9 L207.0,408.2 L208.0,406.5 L209.0,404.9 L210.0,400.8 L211.0,400.4 L212.0,402.0 L213.0,400.3 L214.0,400.7 L215.0,401.6 L216.0,401.6 L217.0,402.0 L218.0,398.1 L219.0,397.2 L220.0,396.1 L221.0,395.7 L222.0,395.1 L223.0,390.7 L224.0,391.8 L225.0,389.0 L226.0,389.2 L227.0,385.7 L228.0,384.8 L229.0,384.1 L230.0,381.4 L231.0,380.5 L232.0,380.1 L233.0,378.7 L234.0,377.4 L235.0,375.1 L236.0,371.4 L237.0,368.8 L238.0,369.9 L239.0,365.8 L240.0,365.5 L241.0,364.2 L242.0,363.7 L243.0,363.7 L244.0,360.6 L245.0,358.1 L246.0,353.4 L247.3,348.6 L248.6,346.0 L249.8,346.9 L251.0,348.3 L252.2,346.7 L253.3,347.8 L254.5,346.9 L255.8,345.1 L257.0,340.6 L258.3,342.6 L259.6,343.3 L260.6,340.2 L261.7,336.9 L262.7,330.1 L264.1,334.7 L265.6,336.4 L267.1,332.2 L268.5,326.5 L269.8,326.3 L271.0,321.7 L272.2,322.9 L273.5,326.0 L274.7,324.6 L275.8,324.4 L277.0,319.9 L278.0,319.6 L279.0,318.5 L280.0,316.5 L281.0,312.8 L282.0,309.7 L283.0,309.8 L284.0,307.5 L285.0,310.0 L286.0,314.4 L287.0,315.5 L288.0,315.1 L289.0,312.3 L290.0,306.6 L291.0,305.2 L292.0,307.2 L293.0,307.9 L294.0,310.0 L295.0,313.0 L296.2,309.3 L297.4,307.6 L298.5,303.1 L299.7,301.0 L300.8,304.3 L301.9,307.3 L303.0,307.0 L304.0,306.9 L305.0,302.4 L306.0,301.3 L307.0,298.9 L308.0,303.0 L309.0,301.6 L310.0,303.2 L311.0,303.8 L312.0,304.5 L313.0,301.6 L314.0,300.2 L315.0,300.1 L316.0,296.2 L317.0,295.4 L318.0,295.1 L319.0,292.8 L320.0,290.1 L321.0,288.3 L322.0,288.3 L323.0,283.4 L324.0,281.7 L325.0,285.0 L326.0,286.6 L327.0,286.8 L328.0,288.7 L329.1,289.2 L330.3,288.3 L331.5,288.2 L332.6,290.1 L333.7,288.8 L334.9,284.0 L336.0,279.7 L337.0,279.8 L338.0,279.0 L339.0,280.7 L340.0,279.9 L341.0,282.5 L342.0,280.3 L343.0,283.7 L344.0,284.0 L345.2,276.0 L346.5,272.6 L347.8,277.8 L349.0,280.8 L350.0,282.1 L351.0,284.3 L352.0,284.3 L353.0,286.2 L354.0,287.1 L355.0,287.5 L356.0,284.4 L357.0,283.0 L358.0,279.8 L359.2,277.4 L360.3,272.1 L361.5,272.9 L362.8,281.2 L364.0,286.5 L365.2,280.0 L366.3,277.2 L367.5,267.7 L368.7,273.7 L369.8,281.1 L371.0,282.2 L372.0,283.6 L373.0,285.8 L374.0,284.2 L375.0,284.8 L376.1,284.2 L377.3,280.9 L378.4,280.2 L379.7,284.2 L381.0,288.4 L382.2,295.5 L383.3,303.0 L384.5,309.8 L385.5,304.7 L386.6,300.9 L387.6,294.9 L388.6,288.0 L389.8,293.6 L391.0,303.9 L392.4,296.5 L393.7,288.8 L395.4,290.4 L396.5,287.8 L397.7,283.1 L398.8,279.4 L399.9,276.1 L400.9,272.9 L402.0,271.1 L403.0,268.5 L404.0,271.8 L405.6,277.7 L406.8,276.8 L408.0,279.5 L409.0,278.6 L410.0,272.7 L411.2,279.4 L412.4,287.3 L414.0,284.1 L415.4,288.6 L416.7,292.7 L417.9,296.0 L419.2,295.3 L420.5,297.9 L421.8,302.3 L423.1,312.7 L424.3,319.6 L426.0,334.3 L427.2,336.6 L428.5,337.7 L430.0,333.1 L431.2,337.3 L432.5,344.3 L433.9,351.5 L435.3,358.6 L436.6,361.6 L438.0,365.7 L439.0,368.4 L440.0,370.6 L441.0,373.0 L442.0,373.1 L443.0,373.0 L444.0,374.3 L445.0,373.4 L446.0,372.1 L447.0,371.5 L448.2,377.8 L449.5,383.6 L450.8,385.8 L452.0,387.6 L453.0,390.7 L454.0,393.5 L455.0,395.3 L456.0,397.5 L457.0,399.4 L458.0,400.1 L459.0,400.4 L460.0,401.8 L461.0,401.6 L462.0,401.3 L463.0,403.7 L464.0,404.9 L465.0,408.0 L466.0,408.4 L467.0,407.3 L468.0,408.8 L469.0,412.1 L470.0,411.7 L471.0,411.5 L472.0,412.7 L473.0,414.9 L474.0,416.2 L475.0,417.3 L476.0,419.7 L477.0,420.6 L478.2,420.9 L479.3,422.3 L480.5,424.5 L481.7,423.3 L482.8,422.5 L484.0,419.7 L485.0,420.8 L486.0,422.6 L487.0,422.2 L488.0,423.6 L489.0,423.8 L490.0,424.4 L491.0,423.8 L492.0,426.3 L493.0,426.1 L494.0,425.0 L495.0,425.2 L496.0,427.6 L497.0,425.8 L498.0,426.4 L499.0,426.9 L500.0,426.3 L501.0,424.8 L502.0,425.5 L503.0,425.7 L504.0,426.4 L505.0,426.1 L506.0,425.6 L507.0,426.4 L508.0,426.4 L509.0,426.3 L510.0,426.2 L511.0,426.1 L512.0,427.0 L513.0,425.9 L514.0,426.0 L515.0,426.8 L516.0,425.8 L517.0,426.6 L518.0,425.6 L519.0,426.6 L520.0,428.1 L521.0,428.7 L522.0,428.4 L523.0,428.3 L524.0,427.3 L525.0,430.0 L526.0,429.7 L527.0,430.3 L528.0,428.8 L529.0,429.1 L530.0,427.8 L531.0,429.8 L532.0,430.7 L533.0,428.5 L534.0,429.6 L535.0,430.7 L536.0,428.9 L537.0,428.5 L538.0,429.1 L539.0,429.8 L540.0,429.4 L541.0,430.7 L542.0,431.3 L543.0,431.9 L544.0,432.2 L545.0,433.1 L546.0,433.1 L547.0,431.0 L548.0,431.1 L549.0,430.7 L550.0,430.7 L551.0,431.6 L552.0,432.1 L553.0,432.7 L554.0,431.1 L555.0,431.0 L556.0,432.1 L557.0,432.4 L558.0,432.4 L559.0,432.7 L560.0,432.3 L561.0,433.5 L562.0,433.5 L563.0,433.2 L564.0,432.6 L565.0,432.9 L566.0,430.8 L567.0,431.7 L568.0,432.9 L569.0,432.0 L570.0,433.2 L571.0,433.6 L572.0,432.4 L573.0,433.1 L574.0,433.2 L575.0,434.0 L576.0,434.4 L577.0,434.0 L578.0,433.2 L579.0,433.6 L580.0,433.8 L581.0,434.6 L582.0,434.3 L583.0,433.3 L584.0,432.4 L585.0,433.0 L586.0,432.8 L587.0,432.4 L588.0,433.1 L589.0,433.0 L590.0,433.4 L591.0,433.9 L592.0,433.2 L593.0,435.4 L594.0,433.6 L595.0,434.3 L596.0,433.6 L597.0,434.3 L598.0,431.3 L599.0,431.8 L600.0,432.9 L601.0,433.3 L602.0,435.0 L603.0,433.5 L604.0,433.8 L605.0,433.4 L606.0,433.3 L607.0,432.8 L608.0,431.9 L609.0,432.1 L610.0,430.7 L611.0,432.2 L612.0,430.5 L613.0,431.1 L614.0,432.8 L615.0,431.1 L616.0,430.7 L617.0,431.5 L618.0,430.6 L619.0,429.5 L620.0,430.0 L621.0,430.3 L622.0,430.3 L623.0,428.8 L624.0,430.4 L625.0,430.7 L626.0,429.1 L627.0,428.7 L628.0,427.7 L629.0,428.9 L630.0,427.2 L631.0,427.8 L632.0,426.7 L633.0,426.0 L634.0,426.9 L635.0,427.6 L636.0,426.4 L637.0,425.3 L638.0,426.1 L639.0,425.4 L640.0,425.3 L641.0,426.1 L642.0,425.7 L643.0,423.8 L644.0,425.4 L645.0,423.6 L646.0,423.5 L647.0,421.9 L648.0,421.7 L649.0,419.8 L650.0,422.1 L651.0,422.2 L652.0,419.6 L653.0,418.3 L654.0,417.5 L655.0,419.5 L656.0,418.3 L657.0,418.1 L658.0,417.5 L659.0,417.2 L660.0,416.0 L661.0,416.1 L662.0,414.4 L663.0,414.7 L664.0,414.7 L665.0,414.5 L666.0,413.3 L667.0,412.0 L668.0,412.1 L669.0,411.1 L670.0,412.3 L671.0,411.5 L672.0,410.0 L673.0,408.8 L674.0,407.9 L675.0,406.9 L676.0,406.8 L677.0,406.9 L678.0,406.7 L679.0,406.3 L680.0,407.1 L681.0,404.2 L682.0,403.5 L683.0,405.3 L684.0,401.1 L685.0,400.5 L686.0,400.4 L687.0,399.9 L688.0,399.4 L689.0,398.2 L690.0,397.8 L691.0,396.9 L692.0,396.7 L693.0,393.8 L694.0,393.3 L695.0,393.4 L696.0,392.0 L697.0,391.0 L698.0,391.7 L699.0,390.2 L700.0,390.4 L701.0,389.9 L702.0,388.7 L703.0,387.8 L704.0,386.4 L705.0,384.1 L706.0,384.1 L707.0,383.8 L708.0,382.2 L709.0,381.5 L710.0,381.4 L711.0,379.2 L712.0,379.3 L713.0,379.8" fill="none" stroke="#0000e6" stroke-width="2.1" stroke-linejoin="miter" stroke-miterlimit="3"/>
 <rect x="41.7" y="246.8" width="2" height="194" fill="#ff8000"/>
 <rect x="712.6" y="246.4" width="1.8" height="195" fill="#0000e0"/>
 <rect x="36" y="439.6" width="690" height="3.2" fill="#808080"/>
 <g stroke="#000058" stroke-width="1.2"><path d="M62.8 440 V446.6 M174.4 440 V446.6 M286 440 V446.6 M397.9 440 V446.6 M509.4 440 V446.6 M620.8 440 V446.6"/></g>
 <circle cx="708.5" cy="283" r="2" fill="#0000e0"/>
</svg>
<span class="x " style="left:20.04px;top:267.00px;font-size:13px;font-weight:normal;color:#ff7800;transform:scaleX(0.9118);line-height:15px;-webkit-text-stroke:0.4px #ff7800;">8.8</span>
<span class="x " style="left:29.95px;top:282.00px;font-size:13px;font-weight:normal;color:#000020;transform:scaleX(0.8960);line-height:15px;">8</span>
<span class="x " style="left:29.70px;top:320.00px;font-size:13px;font-weight:normal;color:#000020;transform:scaleX(0.9333);line-height:15px;">6</span>
<span class="x " style="left:30.19px;top:358.00px;font-size:13px;font-weight:normal;color:#000020;transform:scaleX(0.8296);line-height:15px;">4</span>
<span class="x " style="left:29.93px;top:395.00px;font-size:13px;font-weight:normal;color:#000020;transform:scaleX(0.9333);line-height:15px;">2</span>
<span class="x " style="left:29.95px;top:425.00px;font-size:13px;font-weight:normal;color:#000020;transform:scaleX(0.8960);line-height:15px;">0</span>
<span class="x " style="left:26.57px;top:446.00px;font-size:13px;font-weight:normal;color:#000030;transform:scaleX(0.9294);line-height:15px;">Nov 29 16:00</span>
<span class="x " style="left:138.27px;top:446.00px;font-size:13px;font-weight:normal;color:#000030;transform:scaleX(0.9294);line-height:15px;">Nov 30 00:00</span>
<span class="x " style="left:249.97px;top:446.00px;font-size:13px;font-weight:normal;color:#000030;transform:scaleX(0.9294);line-height:15px;">Nov 30 08:00</span>
<span class="x " style="left:361.37px;top:446.00px;font-size:13px;font-weight:normal;color:#000030;transform:scaleX(0.9294);line-height:15px;">Nov 30 16:00</span>
<span class="x " style="left:471.87px;top:446.00px;font-size:13px;font-weight:normal;color:#000030;transform:scaleX(0.9294);line-height:15px;">Dec 01 00:00</span>
<span class="x " style="left:584.87px;top:446.00px;font-size:13px;font-weight:normal;color:#000030;transform:scaleX(0.9294);line-height:15px;">Dec 01 08:00</span>
<span class="x " style="left:719.92px;top:249.00px;font-size:13px;font-weight:normal;color:#0000e0;transform:scaleX(0.9639);line-height:15px;">934</span>
<span class="x " style="left:719.92px;top:275.00px;font-size:13px;font-weight:normal;color:#0000e0;transform:scaleX(0.9639);line-height:15px;">800</span>
<div style="left:313.2px;top:145.6px;width:235.4px;height:27.6px;background:#fbfbfb;border:1px solid #767676"></div>
<span class="x " style="left:322.10px;top:152.00px;font-size:15px;font-weight:normal;color:#161616;transform:scaleX(0.9880);line-height:17px;">Average for the interval: 484 calls</span>
<svg style="left:310px;top:117px" width="24" height="32" viewBox="310 117 24 32"><path d="M313.4 119.8 L313.4 141.9 L318.3 137.6 L322.3 145 L325.9 143 L322.6 136.2 L328.9 135.9 Z" fill="#fff" stroke="#000" stroke-width="1.15" stroke-linejoin="miter"/></svg>
<svg style="left:480px;top:230px" width="280" height="240" viewBox="480 230 280 240"><rect x="485.6" y="238.5" width="300" height="260" rx="5.2" fill="#fff" fill-opacity="0.68" stroke="#000" stroke-width="1.35"/></svg>
<svg style="left:500px;top:240px" width="200" height="46" viewBox="500 240 200 46">
 <path d="M520.4 247.1 L526.8 252.9 H523.1 V258.7 H529.3 V255.8 L535.7 261.6 L529.3 267.6 V264.5 H523.1 V270.9 H526.8 L520.4 276.7 L514.3 270.9 H517.7 V264.5 H511.5 V267.6 L506.1 261.6 L511.5 255.8 V258.7 H517.7 V252.9 H514.3 Z" fill="#eff1f5" fill-opacity="0.92" stroke="#b2b2b6" stroke-width="1.2" stroke-linejoin="round"/>
 <text x="547.6" y="271" font-family="Liberation Sans, sans-serif" font-size="26.2" font-weight="bold" fill="#fff" stroke="#b4b4b8" stroke-width="1.1" textLength="140" lengthAdjust="spacingAndGlyphs">Chart color</text>
</svg>
<svg style="left:500px;top:280px" width="260" height="190" viewBox="500 280 260 190"><rect x="506.65" y="285.5" width="280" height="220" rx="5.2" fill="#eeeeee" stroke="#000" stroke-width="1.35"/></svg>
<span class="x " style="left:522.96px;top:306.00px;font-size:17px;font-weight:normal;color:#000;transform:scaleX(0.9434);line-height:19px;">Thickness:</span>
<svg style="left:600px;top:300px" width="160" height="30" viewBox="600 300 160 30">
 <g fill="#fff" stroke="#3a3a3a" stroke-width="1"><circle cx="616" cy="313.3" r="7.2"/><circle cx="649" cy="313.3" r="7.2"/><circle cx="682" cy="313.3" r="7.2"/><circle cx="715.2" cy="313.3" r="7.2"/></g>
 <circle cx="616" cy="313.3" r="4.1" fill="#1a1a1a"/>
</svg>
<span class="x " style="left:628.00px;top:306.00px;font-size:17px;font-weight:normal;color:#000;transform:scaleX(0.8000);line-height:19px;">1</span>
<span class="x " style="left:659.93px;top:306.00px;font-size:17px;font-weight:normal;color:#000;transform:scaleX(1.0250);line-height:19px;">2</span>
<span class="x " style="left:692.87px;top:306.00px;font-size:17px;font-weight:normal;color:#000;transform:scaleX(0.9750);line-height:19px;">3</span>
<span class="x " style="left:725.75px;top:306.00px;font-size:17px;font-weight:normal;color:#000;transform:scaleX(0.9943);line-height:19px;">4</span>
<div style="left:522px;top:335.6px;width:260px;height:26.2px;background:#ff0000;border:1px solid #000;border-radius:5px"></div>
<div style="left:522px;top:370.7px;width:260px;height:26.2px;background:#008000;border:1px solid #000;border-radius:5px"></div>
<div style="left:522px;top:405.7px;width:260px;height:26.2px;background:#0000ff;border:1px solid #000;border-radius:5px"></div>
<div style="left:522px;top:440.8px;width:260px;height:26.2px;background:#800000;border:1px solid #000;border-radius:5px"></div>
<svg style="left:718px;top:396px" width="42" height="34" viewBox="718 396 42 34"><path d="M723.6 410 L731.9 416.1 L752.7 401.2 L753.8 403 L733 426.4 L731.4 426.2 Z" fill="#fff" stroke="#000" stroke-width="1" stroke-linejoin="round"/></svg>
</div></body></html>
